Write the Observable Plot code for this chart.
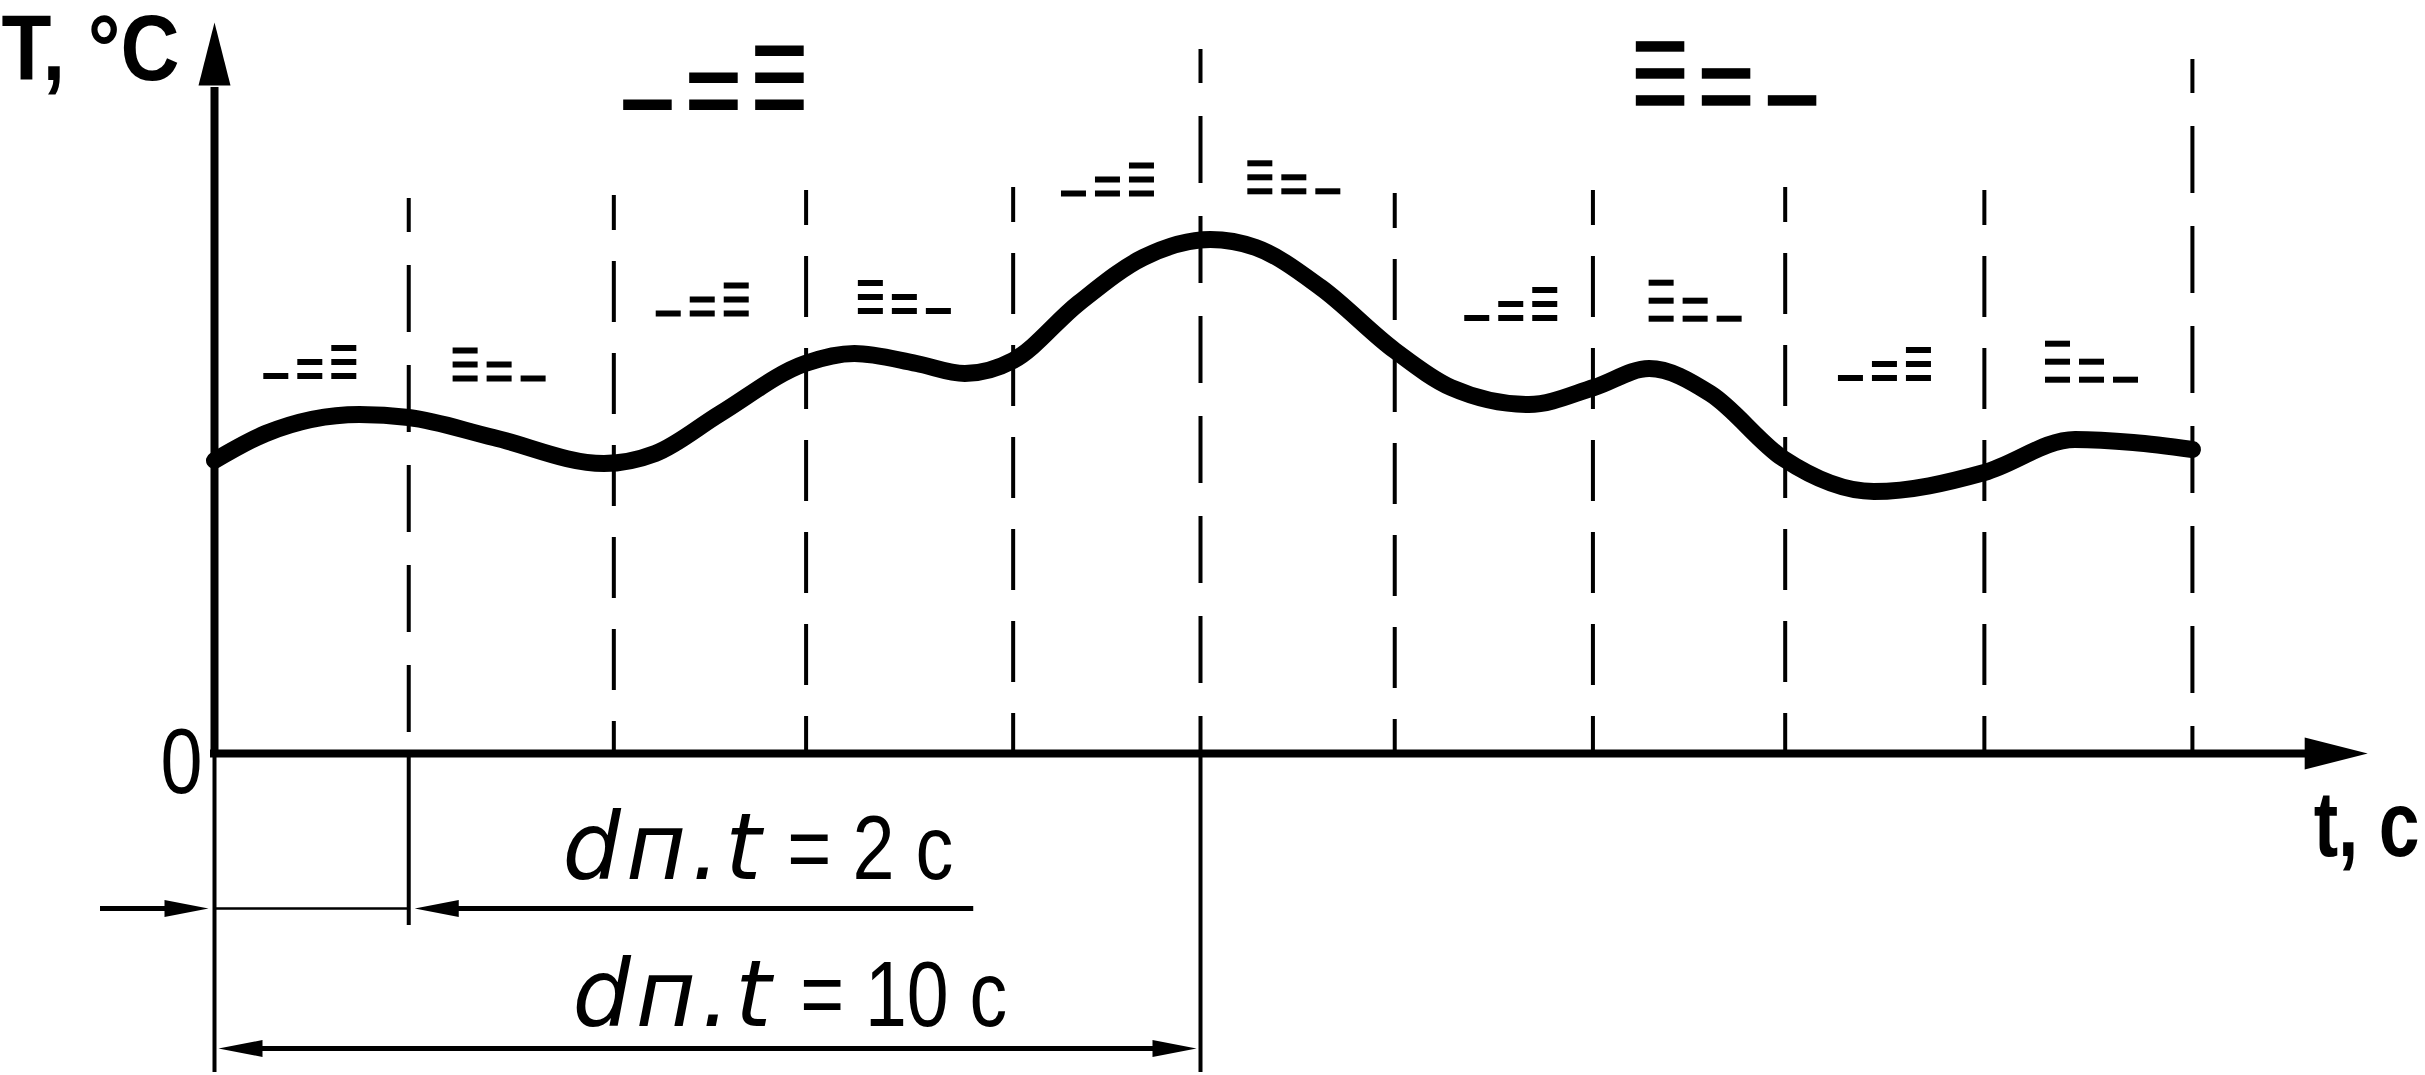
<!DOCTYPE html>
<html><head><meta charset="utf-8">
<script src="https://cdn.jsdelivr.net/npm/d3@7"></script>
<script src="https://cdn.jsdelivr.net/npm/@observablehq/plot@0.6"></script>
<style>html,body{margin:0;padding:0;background:#fff;overflow:hidden}</style>
</head><body><div id="chart"></div>
<script>
// ---------- DATA ----------
// time (s) of the dashed interval marks and their upper end (T units)
const markTimes = [1.97, 4.05, 6.0, 8.1, 10.0, 11.97, 13.98, 15.93, 17.95, 20.06];
const markTops  = [55.5, 55.8, 56.3, 56.6, 70.4, 56.0, 56.3, 56.6, 56.3, 69.4];
// temperature curve T(t)
const curveTime = [0, 0.52, 1.47, 1.97, 2.83, 3.95, 4.47, 5.13, 5.99, 6.49, 7.12, 7.61, 8.10, 8.76, 9.42, 10.1, 10.56, 11.22, 11.97, 12.54, 13.33, 13.99, 14.55, 15.17, 15.91, 16.83, 17.95, 18.87, 19.46, 20.06];
const curveTemp = [29.3, 32.0, 33.9, 33.6, 31.6, 29.0, 30.0, 34.0, 39.0, 40.0, 39.0, 38.0, 39.3, 45.0, 49.6, 51.4, 50.6, 46.6, 40.3, 36.6, 34.9, 36.6, 38.5, 36.0, 29.5, 26.2, 28.1, 31.4, 31.1, 30.4];
// trend indicators (rising "_=≡" / falling "≡=_") per interval
const iconTime  = [0.50, 2.42, 4.48, 6.53, 8.59, 10.48, 12.68, 14.55, 16.47, 18.57];
const iconLevel = [37.4, 37.15, 43.65, 43.9, 55.65, 55.87, 43.2, 43.13, 37.2, 37.03];
const iconKind  = ["up", "down", "up", "down", "up", "down", "up", "down", "up", "down"];
const bigIconTime  = [4.15, 14.42];
const bigIconLevel = [64.3, 64.73];
const bigIconKind  = ["up", "down"];
// dimension annotations
const dimLabels = ["= 2 с", "= 10 с"];
const dimFrom = [0, 0];
const dimTo = [1.97, 10.0];
const dimLevel = [-15.5, -29.5];
const axisTitles = ["T, °C", "t, с"];
const zeroLabel = "0";
const paramName = "dп.t";

// ---------- LAYOUT / STYLE ----------
const W = 2425, H = 1075;
const mL = 214, mR = 41.8, mT = 22, mB = 322;
const xMax = 22, yMax = 73.1;
const kx = (W - mL - mR) / xMax;   // px per second
const ky = (H - mT - mB) / yMax;   // px per T unit
const sans = "'Liberation Sans',Arial,sans-serif";
const longDash = [true, false, false, false, true, false, false, false, false, true];
const smallIcon = {w: 25, h: 6, col: 34};
const bigIcon = {w: 48.5, h: 10.5, col: 66, row: 27};
const iconRow = [14, 14, 14, 14, 14, 14, 14, 18, 14, 18];
const curveWidth = 17;
// target widths (px) of the narrow lettering
const textLen = {"T, °C": 178, "t, с": 106, "0": 42, "= 2 с": 166, "= 10 с": 207};

function iconBars(t0, v0, kind, s, rowPx) {
  const out = [];
  for (let c = 0; c < 3; c++) {
    const n = kind === "up" ? c + 1 : 3 - c;
    for (let r = 0; r < n; r++) {
      const xl = c * s.col, yb = r * rowPx;
      out.push({x1: t0 + xl / kx, x2: t0 + (xl + s.w) / kx, y1: v0 + yb / ky, y2: v0 + (yb + s.h) / ky});
    }
  }
  return out;
}
const bars = [];
iconTime.forEach((t, i) => bars.push(...iconBars(t, iconLevel[i], iconKind[i], smallIcon, iconRow[i])));
bigIconTime.forEach((t, i) => bars.push(...iconBars(t, bigIconLevel[i], bigIconKind[i], bigIcon, bigIcon.row)));

const curve = curveTime.map((t, i) => ({t, T: curveTemp[i]}));
const marks = markTimes.map((t, i) => ({t, top: markTops[i], long: longDash[i]}));

const sym = (pts) => ({draw(ctx) { ctx.moveTo(pts[0][0], pts[0][1]); for (const p of pts.slice(1)) ctx.lineTo(p[0], p[1]); ctx.closePath(); }});
const headUp = sym([[0, 0], [-16, 63], [16, 63]]);
const headRight = sym([[0, 0], [-63, -16], [-63, 16]]);
const smallRight = sym([[0, 0], [-44, -8.5], [-44, 8.5]]);
const smallLeft = sym([[0, 0], [44, -8.5], [44, 8.5]]);

const px = (p) => p / kx; // pixel offset -> seconds

const chart = Plot.plot({
  width: W, height: H,
  marginLeft: mL, marginRight: mR, marginTop: mT, marginBottom: mB,
  x: {domain: [0, xMax], axis: null},
  y: {domain: [0, yMax], axis: null},
  style: {background: "white", overflow: "visible"},
  marks: [
    // dashed interval marks
    Plot.ruleX(marks.filter(d => !d.long), {x: "t", y1: "top", y2: 0, stroke: "black", strokeWidth: 4, strokeDasharray: "61,31", strokeDashoffset: 26}),
    Plot.ruleX(marks.filter(d => d.long), {x: "t", y1: "top", y2: 0, stroke: "black", strokeWidth: 4, strokeDasharray: "67,33", strokeDashoffset: 33}),
    // extension lines below the time axis
    Plot.ruleX([dimFrom[1], dimTo[1]], {x: d => d, y1: 0, y2: dimLevel[1] - 2.4, stroke: "black", strokeWidth: 4}),
    Plot.ruleX([dimTo[0]], {x: d => d, y1: 0, y2: dimLevel[0] - 1.7, stroke: "black", strokeWidth: 4}),
    // axes
    Plot.ruleY([0], {x1: -px(4), x2: xMax - px(60), stroke: "black", strokeWidth: 8}),
    Plot.ruleX([0], {y1: -0.4, y2: yMax - 6.5, stroke: "black", strokeWidth: 8}),
    Plot.dot([{t: 0, T: yMax}], {x: "t", y: "T", symbol: headUp, fill: "black", stroke: null}),
    Plot.dot([{t: xMax - px(16), T: 0}], {x: "t", y: "T", symbol: headRight, fill: "black", stroke: null}),
    // temperature curve
    Plot.line(curve, {x: "t", y: "T", curve: "monotone-x", stroke: "black", strokeWidth: curveWidth, strokeLinecap: "round", strokeLinejoin: "round"}),
    // trend indicators
    Plot.rect(bars, {x1: "x1", x2: "x2", y1: "y1", y2: "y2", fill: "black"}),
    // dimension: 2 s (outside arrows)
    Plot.ruleY([dimLevel[0]], {x1: dimFrom[0] - px(114), x2: dimFrom[0] - px(30), stroke: "black", strokeWidth: 5}),
    Plot.ruleY([dimLevel[0]], {x1: dimFrom[0], x2: dimTo[0], stroke: "black", strokeWidth: 2.5}),
    Plot.ruleY([dimLevel[0]], {x1: dimTo[0] + px(30), x2: dimTo[0] + px(565), stroke: "black", strokeWidth: 5}),
    Plot.dot([{t: dimFrom[0] - px(6), T: dimLevel[0]}], {x: "t", y: "T", symbol: smallRight, fill: "black", stroke: null}),
    Plot.dot([{t: dimTo[0] + px(6), T: dimLevel[0]}], {x: "t", y: "T", symbol: smallLeft, fill: "black", stroke: null}),
    // dimension: 10 s (inside double arrow)
    Plot.ruleY([dimLevel[1]], {x1: dimFrom[1] + px(30), x2: dimTo[1] - px(30), stroke: "black", strokeWidth: 5}),
    Plot.dot([{t: dimFrom[1] + px(4), T: dimLevel[1]}], {x: "t", y: "T", symbol: smallLeft, fill: "black", stroke: null}),
    Plot.dot([{t: dimTo[1] - px(4), T: dimLevel[1]}], {x: "t", y: "T", symbol: smallRight, fill: "black", stroke: null}),
    // dimension labels
    Plot.text([paramName], {x: 3.53, y: -12.5, text: d => d, textAnchor: "start", lineAnchor: "bottom", fontFamily: "'DejaVu Sans',sans-serif", fontStyle: "italic", fontSize: 92, fill: "black"}),
    Plot.text([paramName], {x: 3.63, y: -27.2, text: d => d, textAnchor: "start", lineAnchor: "bottom", fontFamily: "'DejaVu Sans',sans-serif", fontStyle: "italic", fontSize: 92, fill: "black"}),
    Plot.text([dimLabels[0]], {x: 5.81, y: -12.5, text: d => d, textAnchor: "start", lineAnchor: "bottom", fontFamily: sans, fontSize: 90, fill: "black"}),
    Plot.text([dimLabels[1]], {x: 5.94, y: -27.2, text: d => d, textAnchor: "start", lineAnchor: "bottom", fontFamily: sans, fontSize: 92, fill: "black"}),
    // axis titles and zero
    Plot.text([axisTitles[0]], {x: -2.16, y: 67.4, text: d => d, textAnchor: "start", lineAnchor: "bottom", fontFamily: sans, fontWeight: "bold", fontSize: 92, fill: "black"}),
    Plot.text([axisTitles[1]], {x: 21.29, y: -10.2, text: d => d, textAnchor: "start", lineAnchor: "bottom", fontFamily: sans, fontWeight: "bold", fontSize: 92, fill: "black"}),
    Plot.text([zeroLabel], {x: -px(12), y: -3.9, text: d => d, textAnchor: "end", lineAnchor: "bottom", fontFamily: sans, fontSize: 92, fill: "black"})
  ]
});
document.getElementById("chart").appendChild(chart);
chart.querySelectorAll('g[aria-label="line"] path').forEach(p => p.setAttribute("stroke-width", curveWidth));
chart.querySelectorAll("text").forEach(t => {
  const s = t.textContent;
  if (s === paramName) t.setAttribute("letter-spacing", "5");
  if (textLen[s]) {
    const natural = t.getComputedTextLength();
    const k = textLen[s] / natural;
    const tr = t.getAttribute("transform") || "";
    t.setAttribute("transform", tr + ` scale(${k},1)`);
  }
});
</script>
</body></html>
